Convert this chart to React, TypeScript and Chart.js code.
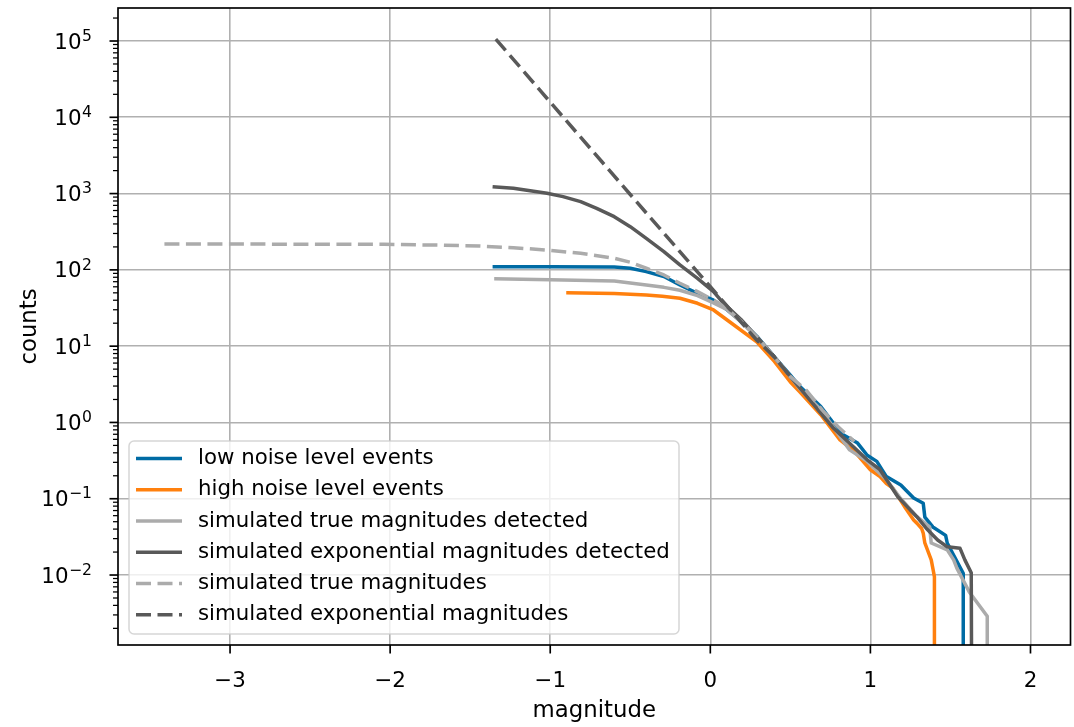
import React, { useEffect, useRef } from "react";
import { Chart, registerables } from "chart.js";

Chart.register(...registerables);

// ---------- data (magnitude, cumulative counts) ----------
const lowNoiseMag = [-1.36, -1.0, -0.6, -0.5, -0.4, -0.29, -0.19, -0.08, 0.02, 0.08, 0.19, 0.29, 0.4, 0.5, 0.56, 0.69, 0.77, 0.83, 0.92, 0.98, 1.04, 1.1, 1.19, 1.27, 1.33, 1.34, 1.39, 1.47, 1.48, 1.58, 1.58];
const lowNoiseCount = [110, 110, 109, 105, 94.8, 81.7, 63.4, 49.3, 40.0, 33.0, 21.4, 13.5, 7.24, 4.17, 2.95, 1.62, 0.977, 0.692, 0.537, 0.372, 0.309, 0.195, 0.151, 0.102, 0.0871, 0.0575, 0.0427, 0.0331, 0.0263, 0.0105, 0.00001];

const highNoiseMag = [-0.9, -0.6, -0.4, -0.3, -0.19, -0.08, 0.02, 0.12, 0.29, 0.4, 0.5, 0.56, 0.69, 0.81, 0.9, 1.0, 1.06, 1.1, 1.14, 1.22, 1.27, 1.29, 1.32, 1.33, 1.34, 1.38, 1.4, 1.4];
const highNoiseCount = [50.2, 49.0, 46.9, 45.2, 42.4, 36.5, 29.8, 20.9, 11.4, 6.31, 3.39, 2.51, 1.26, 0.589, 0.417, 0.24, 0.195, 0.158, 0.138, 0.075, 0.0525, 0.0479, 0.0407, 0.0355, 0.0263, 0.0158, 0.00955, 0.00001];

const trueDetMag = [-1.35, -1.0, -0.6, -0.4, -0.29, -0.19, -0.08, 0.02, 0.1, 0.19, 0.29, 0.4, 0.5, 0.56, 0.69, 0.87, 0.98, 1.1, 1.19, 1.29, 1.37, 1.38, 1.48, 1.52, 1.54, 1.62, 1.73, 1.73];
const trueDetCount = [76.6, 74.5, 71.4, 63.4, 59.0, 54.0, 46.0, 37.0, 30.5, 20.9, 13.2, 7.08, 3.98, 2.75, 1.48, 0.437, 0.309, 0.178, 0.1, 0.0582, 0.0427, 0.0263, 0.0214, 0.0158, 0.0123, 0.00589, 0.00288, 0.00001];

const expDetMag = [-1.36, -1.23, -1.02, -0.92, -0.81, -0.71, -0.6, -0.5, -0.4, -0.29, -0.19, -0.08, 0.02, 0.08, 0.19, 0.29, 0.4, 0.5, 0.56, 0.77, 0.98, 1.06, 1.17, 1.25, 1.29, 1.35, 1.42, 1.48, 1.56, 1.59, 1.63, 1.635];
const expDetCount = [1230, 1172, 1009, 912, 783, 641, 498, 368, 259, 173, 116, 77.4, 51.8, 37.0, 22.5, 13.3, 7.24, 3.98, 2.82, 0.839, 0.324, 0.24, 0.107, 0.0708, 0.0582, 0.0407, 0.0288, 0.0234, 0.0224, 0.0158, 0.0107, 0.00001];

const trueAllMag = [-3.41, -3.0, -2.5, -2.04, -1.7, -1.44, -1.23, -1.02, -0.81, -0.6, -0.5, -0.4, -0.29, -0.19, -0.08, 0.02, 0.1, 0.19, 0.29, 0.4, 0.5, 0.6, 0.7, 0.8, 0.9];
const trueAllCount = [218, 218, 217, 216, 211, 205, 195, 182, 165, 142, 126, 105, 85.7, 66.7, 51.8, 40.3, 31.6, 21.4, 13.3, 7.24, 3.98, 2.63, 1.45, 0.871, 0.562];

const expAllMag = [-1.34, -1.0, -0.5, 0.0, 0.29, 0.4, 0.5];
const expAllCount = [106000, 15800, 973, 60.1, 12.0, 7.24, 3.98];

const seriesLabels = [
  "low noise level events",
  "high noise level events",
  "simulated true magnitudes detected",
  "simulated exponential magnitudes detected",
  "simulated true magnitudes",
  "simulated exponential magnitudes",
];

const xTickValues = [-3, -2, -1, 0, 1, 2];
const yTickExponents = [-2, -1, 0, 1, 2, 3, 4, 5];

const X_MIN = -3.7;
const X_MAX = 2.25;
const Y_MIN = 0.00121;
const Y_MAX = 270800;

const FONT = '"DejaVu Sans", sans-serif';
const TICK_FS = 21.4;
const LEG_FS = 21.3;
const LABEL_FS = 22.8;
const LW = 3.5;
const DASH = [15, 6.5];

const BLUE = "#006BA4";
const ORANGE = "#FF800E";
const LGREY = "#ABABAB";
const DGREY = "#595959";

const toPts = (xs: number[], ys: number[]) => xs.map((x, i) => ({ x, y: ys[i] }));
const minus = (s: string) => s.replace("-", "\u2212");

const axesPlugin = {
  id: "mplAxes",
  afterDraw(chart: any) {
    const { ctx, chartArea: a, scales } = chart;
    const xs = scales.x;
    const ys = scales.y;
    ctx.save();
    ctx.fillStyle = "#000";
    ctx.strokeStyle = "#000";

    // x ticks
    ctx.lineWidth = 1.67;
    ctx.font = `${TICK_FS}px ${FONT}`;
    ctx.textAlign = "center";
    ctx.textBaseline = "middle";
    xTickValues.forEach((v) => {
      const px = xs.getPixelForValue(v);
      ctx.beginPath();
      ctx.moveTo(px, a.bottom);
      ctx.lineTo(px, a.bottom + 8.5);
      ctx.stroke();
      ctx.fillText(minus(String(v)), px, 681);
    });

    // y major ticks + labels
    yTickExponents.forEach((e) => {
      const py = ys.getPixelForValue(Math.pow(10, e));
      ctx.lineWidth = 1.67;
      ctx.beginPath();
      ctx.moveTo(a.left - 8.5, py);
      ctx.lineTo(a.left, py);
      ctx.stroke();
      const sup = minus(String(e));
      ctx.font = `${TICK_FS * 0.73}px ${FONT}`;
      const supW = ctx.measureText(sup).width;
      ctx.font = `${TICK_FS}px ${FONT}`;
      const baseW = ctx.measureText("10").width;
      const right = 92;
      ctx.textAlign = "left";
      ctx.textBaseline = "alphabetic";
      ctx.fillText("10", right - supW - baseW - 0.5, py + 7.5);
      ctx.font = `${TICK_FS * 0.73}px ${FONT}`;
      ctx.fillText(sup, right - supW, py - 0.3);
    });

    // y minor ticks
    ctx.lineWidth = 1.25;
    for (let e = -4; e <= 6; e++) {
      for (let k = 2; k <= 9; k++) {
        const v = k * Math.pow(10, e);
        if (v < Y_MIN || v > Y_MAX) continue;
        const py = ys.getPixelForValue(v);
        ctx.beginPath();
        ctx.moveTo(a.left - 5, py);
        ctx.lineTo(a.left, py);
        ctx.stroke();
      }
    }

    // spines
    ctx.lineWidth = 1.67;
    ctx.strokeRect(a.left, a.top, a.right - a.left, a.bottom - a.top);

    // axis titles
    ctx.font = `${LABEL_FS}px ${FONT}`;
    ctx.textAlign = "center";
    ctx.textBaseline = "middle";
    ctx.fillText("magnitude", (a.left + a.right) / 2, 711);
    ctx.save();
    ctx.translate(30, (a.top + a.bottom) / 2);
    ctx.rotate(-Math.PI / 2);
    ctx.fillText("counts", 0, 0);
    ctx.restore();

    // legend
    const lx = 129, ly = 441, lwid = 550, lh = 193;
    ctx.beginPath();
    (ctx as any).roundRect(lx, ly, lwid, lh, 5);
    ctx.fillStyle = "rgba(255,255,255,0.8)";
    ctx.fill();
    ctx.strokeStyle = "rgba(204,204,204,0.8)";
    ctx.lineWidth = 1.5;
    ctx.stroke();
    chart.data.datasets.forEach((ds: any, i: number) => {
      const y = 458.5 + i * 31.25;
      ctx.strokeStyle = ds.borderColor;
      ctx.lineWidth = LW;
      ctx.setLineDash(ds.borderDash || []);
      ctx.beginPath();
      ctx.moveTo(136, y);
      ctx.lineTo(182, y);
      ctx.stroke();
      ctx.setLineDash([]);
      ctx.fillStyle = "#000";
      ctx.font = `${LEG_FS}px ${FONT}`;
      ctx.textAlign = "left";
      ctx.textBaseline = "middle";
      ctx.fillText(ds.label, 198, y);
    });
    ctx.restore();
  },
};

export default function App() {
  const ref = useRef<HTMLCanvasElement | null>(null);
  useEffect(() => {
    if (!ref.current) return;
    const mk = (i: number, xs: number[], ys: number[], color: string, dashed: boolean, order: number) => ({
      label: seriesLabels[i],
      data: toPts(xs, ys),
      borderColor: color,
      backgroundColor: color,
      borderWidth: LW,
      borderDash: dashed ? DASH : [],
      pointRadius: 0,
      tension: 0,
      fill: false,
      clip: 0,
      order,
      borderCapStyle: "butt",
      borderJoinStyle: "round",
    });
    const chart = new Chart(ref.current, {
      type: "line",
      data: {
        datasets: [
          mk(0, lowNoiseMag, lowNoiseCount, BLUE, false, 6),
          mk(1, highNoiseMag, highNoiseCount, ORANGE, false, 5),
          mk(2, trueDetMag, trueDetCount, LGREY, false, 4),
          mk(3, expDetMag, expDetCount, DGREY, false, 3),
          mk(4, trueAllMag, trueAllCount, LGREY, true, 2),
          mk(5, expAllMag, expAllCount, DGREY, true, 1),
        ] as any,
      },
      options: {
        animation: false,
        responsive: false,
        devicePixelRatio: 1,
        layout: { padding: { left: 0, top: 8, right: 3.5, bottom: 0 } },
        plugins: { legend: { display: false }, tooltip: { enabled: false } },
        scales: {
          x: {
            type: "linear",
            min: X_MIN,
            max: X_MAX,
            afterBuildTicks: (s: any) => {
              s.ticks = xTickValues.map((v) => ({ value: v }));
            },
            afterFit: (s: any) => {
              s.height = 82;
            },
            ticks: { display: false },
            grid: { color: "#b0b0b0", lineWidth: 1.6, drawTicks: false },
            border: { display: false },
          },
          y: {
            type: "logarithmic",
            min: Y_MIN,
            max: Y_MAX,
            afterBuildTicks: (s: any) => {
              s.ticks = yTickExponents.map((e) => ({ value: Math.pow(10, e) }));
            },
            afterFit: (s: any) => {
              s.width = 118;
            },
            ticks: { display: false },
            grid: { color: "#b0b0b0", lineWidth: 1.6, drawTicks: false },
            border: { display: false },
          },
        },
      } as any,
      plugins: [axesPlugin],
    });
    return () => chart.destroy();
  }, []);
  return (
    <div style={{ position: "fixed", left: 0, top: 0, width: 1074, height: 727, background: "#fff" }}>
      <canvas ref={ref} width={1074} height={727} />
    </div>
  );
}
